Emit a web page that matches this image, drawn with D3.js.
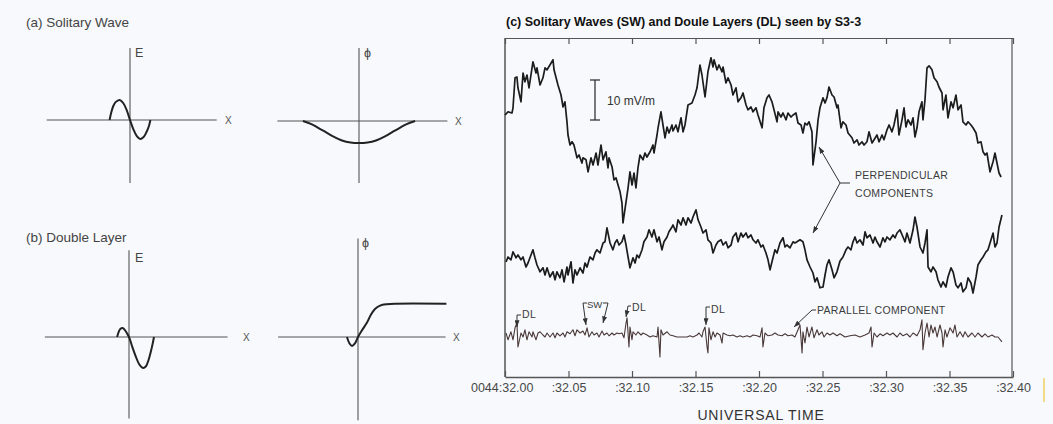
<!DOCTYPE html>
<html>
<head>
<meta charset="utf-8">
<script src="https://cdn.jsdelivr.net/npm/d3@7"></script>
<style>
  html, body { margin: 0; padding: 0; background: #f7f9fc; }
  svg { display: block; font-family: "Liberation Sans", Arial, sans-serif; }
</style>
</head>
<body>
<svg id="chart" width="1053" height="424"></svg>
<script>
// S3-3 record: time in ms after 0044:32.00 UT, field in mV/m (chart level)
var perpTop = [[0,65.5],[2.4,66.3],[5.5,66],[6.3,67.3],[7.9,74.8],[9.4,75],[10.2,72.3],[12.6,68.8],[14.2,76],[15.7,73.8],[17.3,75.5],[18.9,72.3],[22,78.8],[24.4,76],[25.2,77.3],[27.6,73],[29.9,74.8],[31.5,77.3],[33.1,76.8],[35.4,78],[37.8,79.3],[38.6,76.8],[41.7,73],[44.1,70.5],[45.7,67.5],[47.2,68.8],[48.8,63.8],[49.6,60.5],[51.2,58],[52.8,58.8],[54.3,58],[56.7,54.8],[58.3,55.5],[60.6,53.5],[61.4,54.8],[63.8,54.3],[65.4,51.3],[67.7,54.8],[69.3,53],[71.7,56],[73.2,53],[75.6,58],[77.2,54.3],[79.5,56.3],[81.1,52.3],[81.9,54.8],[84.3,52.5],[85.8,49.3],[87.4,49.8],[89,48],[90.6,46.3],[92.1,43.5],[92.9,38.5],[95.3,43.8],[96.9,47.3],[98.4,51.3],[100,48],[101.6,51],[103.1,47.3],[104.7,52.3],[106.3,55.5],[108.7,54.3],[110.2,56],[111.8,55],[114.2,56.3],[116.5,58],[117.3,56],[119.7,60.5],[120.5,62.3],[122.8,66.3],[124.4,63],[126,59.8],[127.6,62.5],[129.1,61],[131.5,63],[132.3,61.5],[134.6,63],[136.2,61.3],[138.6,64.8],[140.2,61.3],[141.7,63],[144.1,68],[147.2,68.5],[149.6,70.5],[151.2,72.3],[153.5,78],[155.1,75.5],[157.5,70],[159.8,76.3],[162.2,79.8],[163.8,77.5],[164.6,79.3],[166.9,76.8],[168.5,78],[170.9,76.3],[171.7,77.5],[174,73.5],[175.6,74.8],[178,73],[179.5,70.5],[181.9,72.3],[183.5,68.8],[185.8,69.8],[187.4,71],[189.8,68],[191.3,66.8],[193.7,67.5],[195.3,66.3],[197.6,67.3],[199.2,65.5],[202.4,62.3],[203.9,67.3],[206.3,69.8],[207.9,70.5],[210.2,68.8],[211.8,66.8],[214.2,63.8],[215,66.3],[217.3,65],[218.9,66],[221.3,64.3],[222.8,66],[225.2,65],[226.8,65.5],[229.1,66],[230.7,63.5],[233.1,63],[234.6,61],[236.2,63.5],[237.8,63],[239.4,63.8],[241.7,61.3],[242.5,53],[244.9,58.8],[246.5,64.3],[248,67.3],[250.4,69.8],[252,68.5],[253.5,69.8],[255.1,72.5],[257.5,70.5],[259.1,70],[261.4,67.3],[262.2,68],[264.6,62.3],[266.1,63.8],[268.5,63],[270.1,61],[273.2,59.8],[274.8,58.5],[277.2,59.3],[278.7,58],[281.1,58.8],[282.7,58],[285,58.8],[286.6,61.3],[289,58.5],[290.6,59.3],[292.9,60.5],[294.5,58.8],[296.9,60.5],[298.4,59.3],[300.8,61.8],[302.4,63],[304.7,61.3],[306.3,63],[308.7,66.8],[310.2,60.5],[312.6,64.3],[314.2,67.3],[315.7,62.5],[317.3,64.3],[319.7,63],[321.3,64.8],[322.8,60],[324.4,62.3],[326,66.3],[328.3,68.8],[329.1,64.3],[330.7,69.3],[332.3,77.3],[333.9,77.8],[336.2,76.8],[337.8,74.8],[340.2,73.8],[341.7,72.5],[344.1,71],[344.9,66.8],[347.2,70.5],[348.8,64.8],[351.2,68.8],[352.8,67.3],[355.1,70.5],[356.7,66.8],[359.1,68],[360.6,63.8],[363,63],[364.6,63.8],[366.9,63],[368.5,62.3],[370.9,61],[372.4,58.5],[374.8,58.8],[376.4,56.3],[378,55.5],[379.5,56],[381.9,51.3],[384.3,53.8],[385.8,56],[387.4,53.5],[389,51],[390.6,50]];

var perpBottom = [[0.8,28.8],[2.4,30],[4.7,29.3],[6.3,31.3],[8.7,29.8],[10.2,30.5],[12.6,29.3],[14.2,30],[16.5,27.5],[18.1,28.5],[22,31.8],[23.6,29.8],[25.2,28],[27.6,26.3],[29.9,27.3],[31.5,25.5],[33.1,27.3],[35.4,25],[37.8,26.3],[39.4,24.3],[40.9,26.3],[43.3,24.8],[44.9,26.8],[46.5,23.8],[48.8,27.5],[49.6,25.5],[52,28.8],[53.5,23.5],[55.1,26.8],[56.7,25.5],[59.1,27.3],[61.4,26],[63,28.5],[64.6,27.5],[66.9,30],[69.3,29.3],[70.9,31],[72.4,31.8],[74.8,31],[77.2,33.5],[78.7,33.8],[80.3,37.3],[82.7,33.5],[85,31.8],[86.6,33.5],[88.2,34.3],[89.8,33],[92.1,33.8],[93.7,35.5],[95.3,33],[96.9,30],[98.4,27.3],[100.8,29.8],[102.4,28.5],[103.9,30.5],[105.5,29.8],[107.9,31.8],[109.4,33.8],[111.8,35],[113.4,36.8],[115.7,35],[117.3,36.8],[119.7,33.8],[121.3,35],[123.6,31.8],[125.2,33.8],[127.6,35],[129.1,36.3],[131.5,37.5],[132.3,38],[134.6,36.3],[136.2,39.3],[138.6,38],[140.2,39.8],[142.5,38],[144.1,39.8],[146.5,38.5],[148,40],[150.4,41.8],[152,39.3],[154.3,37.5],[155.9,36],[158.3,36.8],[159.8,34.3],[162.2,33.5],[163.8,31],[166.1,33],[167.7,33.8],[170.1,34.3],[171.7,33],[174,33.8],[175.6,32.3],[178,33],[179.5,35],[181.9,36],[183.5,33.8],[185.8,36],[187.4,35],[189.8,36],[191.3,34.8],[193.7,35.5],[195.3,34.3],[197.6,33.5],[199.2,34.3],[201.6,32.5],[203.1,33],[205.5,31],[207.1,29.3],[208.7,26.8],[211,29.8],[212.6,31.8],[214.2,31],[216.5,33.5],[218.9,34.8],[220.5,32.5],[222,33],[224.4,32.3],[226.8,33.8],[228.3,33.5],[229.9,33.8],[232.3,34.3],[234.6,33.8],[236.2,31.8],[237.8,29.3],[240.2,27.5],[242.5,26],[244.1,23.8],[245.7,24.8],[248,22.3],[250.4,22.5],[252,25.5],[253.5,28],[255.1,29.3],[257.5,26.8],[259.1,24.8],[261.4,26.3],[263.8,29],[266.1,30],[268.5,31.8],[270.1,32.5],[272.4,31.8],[274,33.8],[275.6,35],[277.2,33.5],[279.5,34.3],[281.9,33],[283.5,36.3],[285,34.8],[287.4,35.5],[289.8,33.5],[291.3,35],[292.9,33.8],[295.3,32.5],[297.6,34.8],[299.2,33.8],[300.8,35],[303.1,34.3],[305.5,35.5],[307.1,34.8],[308.7,36],[311,36.8],[313.4,35],[315,33.8],[316.5,36],[318.9,33.5],[321.3,36.8],[322.8,40],[324.4,37.5],[326.8,32.5],[329.1,31],[330.7,33.5],[332.3,36.8],[333.1,27.5],[335.4,26.3],[337,27.5],[339.4,26.3],[340.9,24.3],[343.3,22.5],[344.9,23.8],[347.2,22.5],[348.8,25],[351.2,27.3],[352.8,26.3],[355.1,23],[356.7,22.3],[359.1,23.5],[360.6,21.3],[363,22.3],[364.6,24.8],[366.9,23.5],[368.5,21],[370.9,25],[372.4,28],[374.8,29.3],[376.4,30],[378.7,31.3],[380.3,31.8],[382.7,34.3],[384.3,36],[385.8,32.5],[387.4,33.5],[389,37.5],[391.3,40.5]];

var parallel = [[0.8,11],[2.4,9.3],[4.7,11.3],[6.3,9.3],[7.9,12.3],[9.4,13.5],[10.2,7.5],[12.6,11],[14.2,10],[15.7,11.8],[17.3,9.3],[18.9,11.3],[21.3,10],[22,11.3],[24.4,9.3],[26,11],[27.6,11.3],[29.9,10.5],[31.5,10],[33.1,11],[35.4,10],[37.8,11],[39.4,9.8],[40.9,11],[43.3,10.3],[45.7,11],[47.2,10],[48.8,11.3],[51.2,10.8],[53.5,11.8],[55.1,10.3],[56.7,11.8],[59.1,11],[61.4,11.5],[63,10.5],[64.6,12.3],[66.1,10],[68.5,11.3],[70.1,10.5],[72.4,11],[74,10],[76.4,11.5],[78,10.5],[80.3,11],[81.9,10.3],[84.3,11],[85.8,10.5],[88.2,11],[89.8,10.8],[92.1,11],[93.7,9.8],[95.3,13.5],[96.1,14.8],[97.6,7.5],[98.4,12.5],[100,9.3],[100.8,11.3],[103.1,10.5],[104.7,11.3],[107.1,10.5],[108.7,11],[111.8,10.5],[114.2,10],[116.5,10.3],[119.7,10],[120.5,12.5],[122,5],[122.8,11.8],[124.4,10.5],[127.6,11.3],[129.9,10.5],[132.3,10.3],[135.4,10],[137.8,10],[140.2,10],[143.3,10],[145.7,10.3],[148,10],[151.2,10.5],[152.8,11],[155.1,10],[155.9,11.3],[157.5,12.5],[159.1,7.5],[159.8,6],[160.6,12.3],[162.2,9.3],[163.8,11.3],[165.4,10],[166.9,11],[169.3,10.5],[170.9,8.5],[171.7,11],[174.8,10.5],[177.2,10.3],[179.5,10.5],[182.7,10],[185,10.3],[187.4,10],[190.6,10.3],[192.9,10],[195.3,10.5],[198.4,10.3],[200.8,10],[202.4,12.3],[203.1,7.5],[204.7,11],[207.1,10.3],[210.2,10.5],[212.6,11],[215,10.5],[218.1,10.3],[220.5,10.8],[222.8,10.3],[226,10.5],[228.3,10],[230.7,11.8],[232.3,13],[233.9,6],[234.6,11.3],[236.2,8.5],[237.8,12.5],[239.4,10],[241.7,12.5],[243.3,9.8],[245.7,11.8],[247.2,10.5],[249.6,11.3],[251.2,10],[253.5,11],[255.9,10.5],[258.3,11],[261.4,10.3],[263.8,10.8],[267.7,10],[271.7,10.3],[275.6,10.5],[279.5,10],[283.5,10.5],[286.6,11],[288.2,12.5],[289,7.5],[290.6,11],[292.9,10],[295.3,10.8],[297.6,10.3],[300.8,11],[303.1,10.5],[305.5,11],[308.7,10],[311,11],[313.4,10.3],[316.5,10.8],[318.9,10],[321.3,11],[324.4,10.3],[326.8,11.8],[328.3,14.3],[329.1,6.8],[330.7,11],[332.3,13.5],[333.9,10],[335.4,13],[337,11],[338.6,12.5],[340.2,10],[342.5,13],[344.1,11],[344.9,7.5],[346.5,11.8],[348,10],[350.4,12.3],[352.8,11],[354.3,13],[355.9,10],[358.3,11.3],[360.6,10],[362.2,11.3],[364.6,10],[367.7,11],[370.1,10],[372.4,11],[375.6,10],[378,10.8],[380.3,10],[383.5,10.5],[385.8,10],[388.2,10],[391.3,8.8]];

var tickTimes = [0, 50, 100, 150, 200, 250, 300, 350, 400];
var tickLabels = ["0044:32.00", ":32.05", ":32.10", ":32.15", ":32.20", ":32.25", ":32.30", ":32.35", ":32.40"];
var scaleBarSize = 10;   // mV/m
var scaleBarBase = 64.25;

// schematic profiles (arbitrary units along x)
var swE   = [[-1.2,0],[-1.1,0.45],[-1.0,0.78],[-0.85,1.05],[-0.6,1.18],[-0.4,1.0],[-0.2,0.6],[0,0],[0.2,-0.55],[0.4,-0.95],[0.6,-1.12],[0.8,-1.0],[0.95,-0.75],[1.1,-0.4],[1.2,0]];
var swPhi = [[-3.3,0],[-2.8,-0.18],[-2.4,-0.4],[-2.0,-0.63],[-1.5,-0.92],[-1.0,-1.15],[-0.5,-1.27],[0,-1.3],[0.5,-1.27],[1.0,-1.15],[1.5,-0.92],[2.0,-0.63],[2.4,-0.4],[2.8,-0.18],[3.3,0]];
var dlE   = [[-0.7,0],[-0.6,0.32],[-0.5,0.48],[-0.38,0.53],[-0.25,0.42],[-0.12,0.22],[0,0],[0.2,-0.6],[0.4,-1.15],[0.6,-1.6],[0.82,-1.82],[1.0,-1.72],[1.15,-1.35],[1.3,-0.8],[1.4,-0.35],[1.47,0]];
var dlPhi = [[-0.65,0],[-0.5,-0.38],[-0.35,-0.53],[-0.18,-0.38],[0,0],[0.25,0.42],[0.53,0.85],[0.75,1.3],[1.0,1.65],[1.3,1.85],[1.7,1.93],[2.2,1.96],[5.2,1.96]];

var svg = d3.select("#chart");
var ink = "#222";

svg.append("defs").append("marker")
    .attr("id", "arr")
    .attr("viewBox", "0 0 8 6")
    .attr("refX", 8).attr("refY", 3)
    .attr("markerWidth", 7).attr("markerHeight", 5)
    .attr("markerUnits", "userSpaceOnUse")
    .attr("orient", "auto")
    .append("path").attr("d", "M0,0L8,3L0,6Z").attr("fill", "#333");

// ---------- left: schematic diagrams ----------
svg.append("text").attr("x", 26).attr("y", 27).attr("font-size", 13.5).attr("fill", "#444").text("(a) Solitary Wave");
svg.append("text").attr("x", 26).attr("y", 242).attr("font-size", 13.5).attr("fill", "#444").text("(b) Double Layer");

var unit = 17;
var minis = [
    { data: swE,   ax: 130, ay: 120, x0: -4.9, x1: 5.1,  top: 4.24, bot: -3.7,  lab: "E", lx: 135, ly: 57,  xx: 225, xy: 124 },
    { data: swPhi, ax: 359, ay: 121, x0: -4.8, x1: 5.2,  top: 4.3,  bot: -3.65, lab: "\u03d5", lx: 364, ly: 57, xx: 455, xy: 125 },
    { data: dlE,   ax: 129, ay: 337, x0: -4.95, x1: 5.8, top: 5.1,  bot: -4.8,  lab: "E", lx: 135, ly: 262, xx: 243, xy: 341 },
    { data: dlPhi, ax: 358, ay: 337, x0: -4.7, x1: 5.15, top: 5.8,  bot: -4.9,  lab: "\u03d5", lx: 362, ly: 247, xx: 453, xy: 341 }
];

minis.forEach(function (m) {
    var x = d3.scaleLinear().domain([0, 1]).range([m.ax, m.ax + unit]);
    var y = d3.scaleLinear().domain([0, 1]).range([m.ay, m.ay - unit]);
    var g = svg.append("g");
    g.append("line").attr("x1", x(m.x0)).attr("x2", x(m.x1)).attr("y1", y(0)).attr("y2", y(0))
        .attr("stroke", "#555").attr("stroke-width", 1.1);
    g.append("line").attr("x1", x(0)).attr("x2", x(0)).attr("y1", y(m.top)).attr("y2", y(m.bot))
        .attr("stroke", "#555").attr("stroke-width", 1.1);
    g.append("path").datum(m.data)
        .attr("d", d3.line().x(function (d) { return x(d[0]); }).y(function (d) { return y(d[1]); }).curve(d3.curveCatmullRom))
        .attr("fill", "none").attr("stroke", ink).attr("stroke-width", 2);
    g.append("text").attr("x", m.lx).attr("y", m.ly).attr("font-size", 12.5).attr("fill", "#444").text(m.lab);
    g.append("text").attr("x", m.xx).attr("y", m.xy).attr("font-size", 10).attr("fill", "#555").text("X");
});

// ---------- right: S3-3 record ----------
var frameL = 505, frameR = 1012, frameT = 38, frameB = 377;
var xScale = d3.scaleLinear().domain([0, 400]).range([frameL, 1013]);
var yScale = d3.scaleLinear().domain([0, 84.5]).range([frameB, frameB - 84.5 * 4]);

svg.append("text").attr("x", 506).attr("y", 26).attr("font-size", 12.5).attr("font-weight", "bold")
    .attr("fill", "#111").text("(c) Solitary Waves (SW) and Doule Layers (DL) seen by S3-3");

var frame = svg.append("g").attr("stroke", "#555").attr("fill", "none");
frame.append("line").attr("x1", frameL).attr("x2", frameL).attr("y1", frameT).attr("y2", frameB).attr("stroke-width", 1.5);
frame.append("line").attr("x1", frameR).attr("x2", frameR).attr("y1", frameT).attr("y2", frameB).attr("stroke-width", 1.2);

var xAxis = d3.axisBottom(xScale).tickValues(tickTimes).tickSizeInner(-6).tickSizeOuter(0).tickPadding(6)
    .tickFormat(function (d, i) { return tickLabels[i]; });
var gx = svg.append("g").attr("transform", "translate(0," + frameB + ")").call(xAxis);
gx.select(".domain").attr("stroke", "#555").attr("stroke-width", 1.3);
gx.selectAll(".tick line").attr("stroke", "#555").attr("stroke-width", 1.2);
gx.selectAll(".tick text").attr("font-size", 12.5).attr("fill", "#484848")
    .attr("font-family", "Liberation Sans, Arial, sans-serif");
gx.selectAll(".tick text").filter(function (d, i) { return i === 0; })
    .attr("text-anchor", "end").attr("x", 28);

var gt = svg.append("g").attr("transform", "translate(0," + frameT + ")")
    .call(d3.axisTop(xScale).tickValues(tickTimes).tickSizeInner(-6).tickSizeOuter(0).tickFormat(""));
gt.select(".domain").attr("stroke", "#555").attr("stroke-width", 1.2);
gt.selectAll(".tick line").attr("stroke", "#555").attr("stroke-width", 1.2);

svg.append("text").attr("x", 761).attr("y", 420).attr("text-anchor", "middle")
    .attr("font-size", 14).attr("letter-spacing", 0.8).attr("fill", "#333").text("UNIVERSAL TIME");

var traceLine = d3.line()
    .x(function (d) { return xScale(d[0]); })
    .y(function (d) { return yScale(d[1]); });

svg.append("path").datum(perpTop).attr("d", traceLine)
    .attr("fill", "none").attr("stroke", "#1c1c1c").attr("stroke-width", 1.7).attr("stroke-linejoin", "round");
svg.append("path").datum(perpBottom).attr("d", traceLine)
    .attr("fill", "none").attr("stroke", "#1c1c1c").attr("stroke-width", 1.7).attr("stroke-linejoin", "round");
svg.append("path").datum(parallel).attr("d", traceLine)
    .attr("fill", "none").attr("stroke", "#4a3838").attr("stroke-width", 1.1).attr("stroke-linejoin", "round");

// 10 mV/m scale bar
var sb = svg.append("g").attr("stroke", "#333").attr("stroke-width", 1.3);
var sbx = 595;
sb.append("line").attr("x1", sbx).attr("x2", sbx).attr("y1", yScale(scaleBarBase)).attr("y2", yScale(scaleBarBase + scaleBarSize));
sb.append("line").attr("x1", sbx - 5).attr("x2", sbx + 5).attr("y1", yScale(scaleBarBase)).attr("y2", yScale(scaleBarBase));
sb.append("line").attr("x1", sbx - 5).attr("x2", sbx + 5).attr("y1", yScale(scaleBarBase + scaleBarSize)).attr("y2", yScale(scaleBarBase + scaleBarSize));
svg.append("text").attr("x", 607).attr("y", 105).attr("font-size", 12).attr("fill", "#333").text("10 mV/m");

// annotations
var ann = svg.append("g").attr("fill", "none").attr("stroke", "#333").attr("stroke-width", 1);
function leader(pts) {
    ann.append("path").attr("d", d3.line()(pts)).attr("marker-end", "url(#arr)");
}
leader([[850, 183], [840, 183], [819, 147]]);
leader([[840, 183], [813, 233]]);
leader([[521, 315], [517, 315], [517, 327]]);
leader([[587, 303], [583, 303], [586, 325]]);
leader([[603, 303], [608, 303], [603, 323]]);
leader([[631, 306], [628, 306], [626, 317]]);
leader([[710, 307], [706, 307], [706, 325]]);
leader([[816, 310], [812, 310], [794, 327]]);

var lab = svg.append("g").attr("fill", "#3c3c3c").attr("font-size", 10.5).attr("letter-spacing", 0.3);
lab.append("text").attr("x", 855).attr("y", 179).text("PERPENDICULAR");
lab.append("text").attr("x", 855).attr("y", 197).text("COMPONENTS");
lab.append("text").attr("x", 817).attr("y", 314).text("PARALLEL  COMPONENT");
lab.append("text").attr("x", 522).attr("y", 318).attr("font-size", 10.5).text("DL");
lab.append("text").attr("x", 587).attr("y", 308).attr("font-size", 9.5).attr("letter-spacing", 0).text("SW");
lab.append("text").attr("x", 632).attr("y", 311).attr("font-size", 10.5).text("DL");
lab.append("text").attr("x", 711).attr("y", 313).attr("font-size", 10.5).text("DL");

// scan mark at right edge
svg.append("line").attr("x1", 1044).attr("x2", 1044).attr("y1", 378).attr("y2", 402)
    .attr("stroke", "#f0d060").attr("stroke-width", 1.5);
</script>
</body>
</html>
